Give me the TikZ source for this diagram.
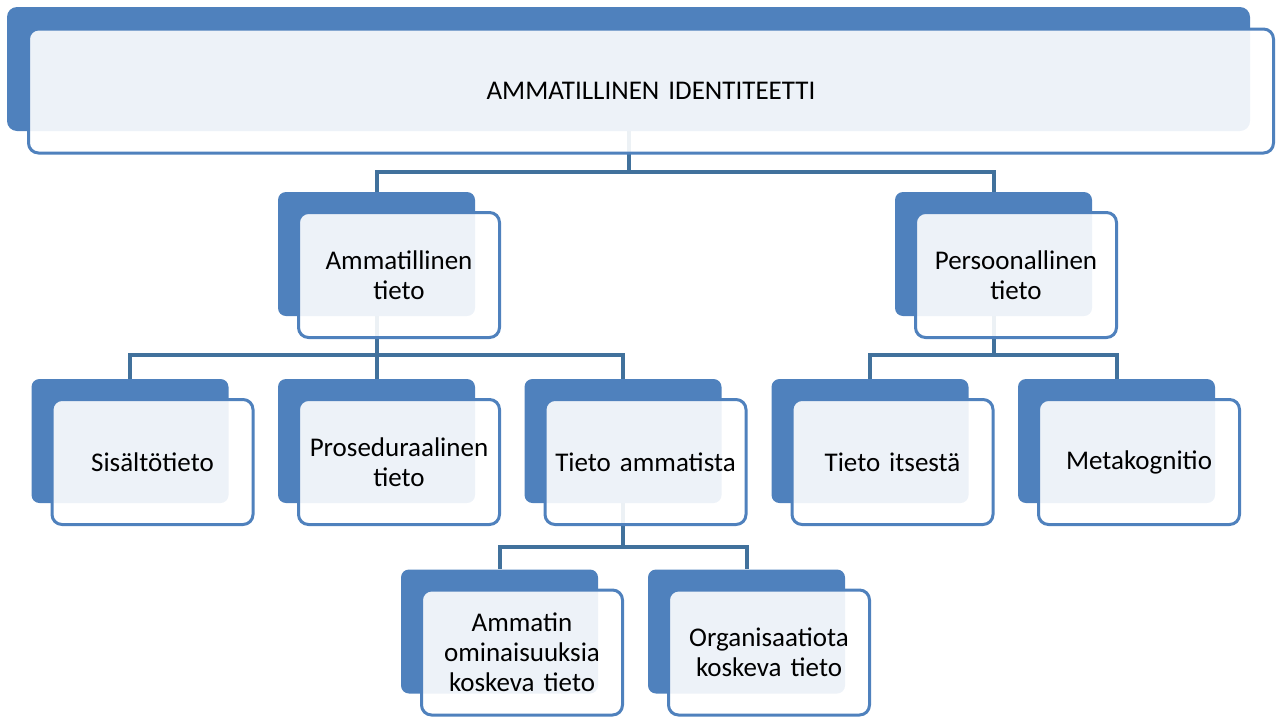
\documentclass[tikz,border=0pt]{standalone}
\usepackage{fontspec}
\setmainfont{Carlito}
\usetikzlibrary{positioning, backgrounds}

\definecolor{boxblue}{HTML}{4F81BD}
\definecolor{linkblue}{HTML}{41719C}

\begin{document}
\begin{tikzpicture}[
    x=1pt, y=-1pt,
    font=\fontsize{27}{30}\selectfont,
    back/.style={rectangle, fill=boxblue, rounded corners=8pt, minimum width=197pt, minimum height=124pt, inner sep=0pt},
    front/.style={rectangle, draw=boxblue, line width=3pt, fill=white, fill opacity=0.9, text opacity=1, rounded corners=10pt, align=center, minimum width=201pt, minimum height=125pt, text width=195pt, inner sep=2pt},
    link/.style={draw=linkblue, line width=4pt}
]
\useasboundingbox (0,0) rectangle (1277,718);

% Top
\node[back, minimum width=1243pt, rounded corners=10pt] (top-b) at (628.5,69) {};
\node[front, minimum width=1245pt, minimum height=124pt, text width=1200pt] (top) at ([xshift=22.5pt,yshift=-22pt]top-b.center) {AMMATILLINEN IDENTITEETTI};

% Level 2
\node[back] (amm-b) at (376.5,254) {};
\node[front] (amm) at ([xshift=22.5pt,yshift=-21pt]amm-b.center) {Ammatillinen\\tieto};
\node[back] (pers-b) at (993.5,254) {};
\node[front] (pers) at ([xshift=22.5pt,yshift=-21pt]pers-b.center) {Persoonallinen\\tieto};

% Level 3
\node[back] (sis-b) at (130,441) {};
\node[front] (sis) at ([xshift=22.5pt,yshift=-21pt]sis-b.center) {Sisältötieto};
\node[back] (pros-b) at (376.5,441) {};
\node[front] (pros) at ([xshift=22.5pt,yshift=-21pt]pros-b.center) {Proseduraalinen\\tieto};
\node[back] (tam-b) at (623,441) {};
\node[front] (tam) at ([xshift=22.5pt,yshift=-21pt]tam-b.center) {Tieto ammatista};
\node[back] (its-b) at (870,441) {};
\node[front] (its) at ([xshift=22.5pt,yshift=-21pt]its-b.center) {Tieto itsestä};
\node[back] (meta-b) at (1116.5,441) {};
\node[front] (meta) at ([xshift=22.5pt,yshift=-21pt]meta-b.center) {Metakognitio};

% Level 4
\node[back] (omi-b) at (499.5,631.5) {};
\node[front] (omi) at ([xshift=22.5pt,yshift=-21pt]omi-b.center) {Ammatin\\ominaisuuksia\\koskeva tieto};
\node[back] (org-b) at (746.5,631.5) {};
\node[front] (org) at ([xshift=22.5pt,yshift=-21pt]org-b.center) {Organisaatiota\\koskeva tieto};

% Connectors
\begin{pgfonlayer}{background}
\draw[link] (top-b.south) |- ([yshift=20pt]amm-b.north) -- (amm-b.north);
\draw[link] (top-b.south) |- ([yshift=20pt]pers-b.north) -- (pers-b.north);

\draw[link] (amm-b.south) |- ([yshift=24pt]sis-b.north) -- (sis-b.north);
\draw[link] (amm-b.south) |- ([yshift=24pt]pros-b.north) -- (pros-b.north);
\draw[link] (amm-b.south) |- ([yshift=24pt]tam-b.north) -- (tam-b.north);

\draw[link] (pers-b.south) |- ([yshift=24pt]its-b.north) -- (its-b.north);
\draw[link] (pers-b.south) |- ([yshift=24pt]meta-b.north) -- (meta-b.north);

\draw[link] (tam-b.south) |- ([yshift=22pt]omi-b.north) -- (omi-b.north);
\draw[link] (tam-b.south) |- ([yshift=22pt]org-b.north) -- (org-b.north);
\end{pgfonlayer}

\end{tikzpicture}
\end{document}
